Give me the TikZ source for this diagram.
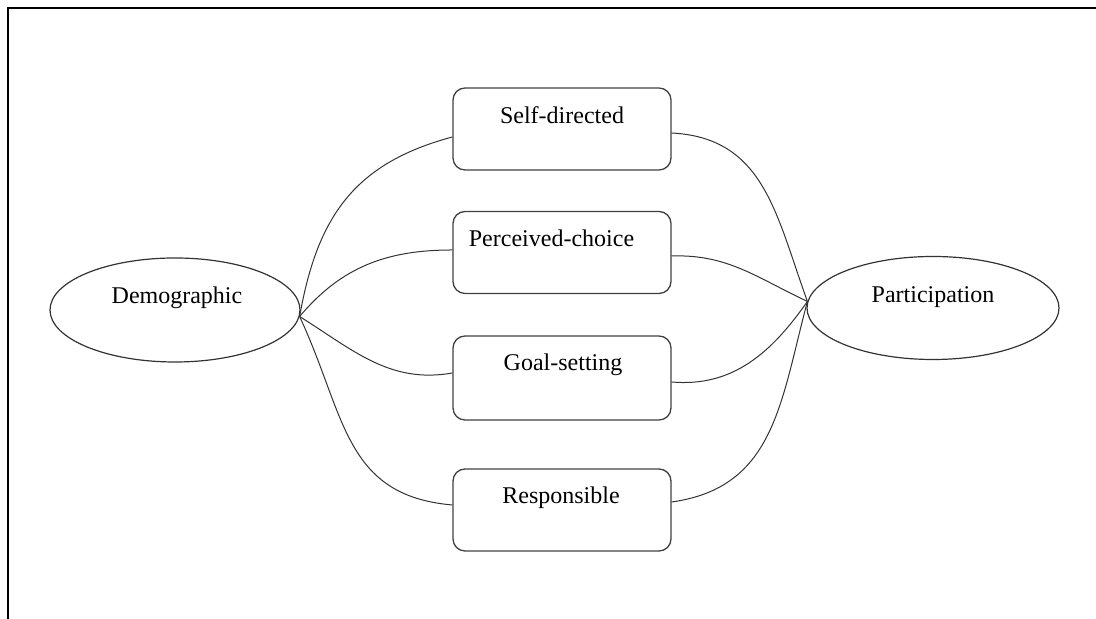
\documentclass[tikz,border=0pt]{standalone}
\usepackage{fontspec}
\setmainfont{Liberation Serif}
\tikzset{
  box/.style={draw=black!75, line width=0.65pt, rounded corners=6pt, minimum width=109pt, minimum height=41pt, inner sep=0pt},
  oval/.style={draw=black!80, line width=0.6pt, ellipse, minimum width=125pt, minimum height=52pt, inner sep=0pt},
  lbl/.style={anchor=base, inner sep=0pt, font=\fontsize{12}{14}\selectfont},
  link/.style={draw=black!80, line width=0.5pt}
}
\usetikzlibrary{shapes.geometric}
\begin{document}
\begin{tikzpicture}[x=0.5pt,y=0.5pt]
  \useasboundingbox (0,0) rectangle (1096,619);
  \draw[line width=1.3pt] (8,0) -- (8,611) -- (1096,611);
  \node[oval] (demo) at (175,309) {};
  \node[oval, minimum width=126pt, minimum height=51.5pt] (part) at (933,311) {};
  \node[box] (self) at (562,490) {};
  \node[box] (perc) at (562,366.5) {};
  \node[box, minimum height=42pt] (goal) at (562,241) {};
  \node[box] (resp) at (562,109) {};
  \node[lbl] (demo-txt) at (177,315) {Demographic};
  \node[lbl] (part-txt) at (933,316) {Participation};
  \node[lbl] (self-txt) at (562,495) {Self-directed};
  \node[lbl] (perc-txt) at (551.5,372) {Perceived-choice};
  \node[lbl] (goal-txt) at (563,248) {Goal-setting};
  \node[lbl] (resp-txt) at (561,115) {Responsible};
  \draw[link] (demo.-3.5) to[out=80, in=195, looseness=1.1] ([yshift=-4pt]self.west);
  \draw[link] (demo.-3.5) to[out=50, in=180] ([yshift=1.25pt]perc.west);
  \draw[link] (demo.-3.5) to[out=-32, in=190] ([yshift=2.5pt]goal.west);
  \draw[link] (demo.-3.5) to[out=-65, in=175, looseness=1.15] ([yshift=2.5pt]resp.west);
  \draw[link] ([yshift=-2pt]self.east) to[out=-3, in=110, looseness=1.1] (part.177.5);
  \draw[link] ([yshift=-1.75pt]perc.east) to[out=2, in=155] (part.177.5);
  \draw[link] ([yshift=-2pt]goal.east) to[out=-5, in=235] (part.177.5);
  \draw[link] ([yshift=4pt]resp.east) to[out=8, in=255, looseness=1.1] (part.177.5);
\end{tikzpicture}
\end{document}
